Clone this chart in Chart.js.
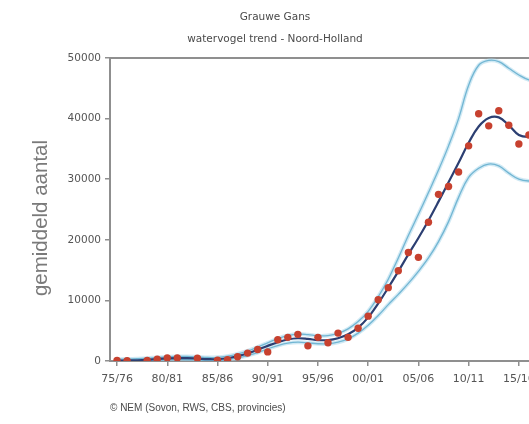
<!DOCTYPE html>
<html>
<head>
<meta charset="utf-8">
<script src="https://cdn.jsdelivr.net/npm/chart.js@4/dist/chart.umd.min.js"></script>
<style>
  html, body { margin: 0; padding: 0; background: #ffffff; overflow: hidden; }
  #wrap { width: 575px; height: 424px; }
</style>
</head>
<body>
<div id="wrap"><canvas id="c" width="575" height="424"></canvas></div>
<script>
// Winter seasons (one point per season)
const seasons = [
  '75/76','76/77','77/78','78/79','79/80','80/81','81/82','82/83','83/84','84/85',
  '85/86','86/87','87/88','88/89','89/90','90/91','91/92','92/93','93/94','94/95',
  '95/96','96/97','97/98','98/99','99/00','00/01','01/02','02/03','03/04','04/05',
  '05/06','06/07','07/08','08/09','09/10','10/11','11/12','12/13','13/14','14/15',
  '15/16','16/17','17/18','18/19'
];

// Seasons that carry an axis label
const tickSeasons = ['75/76','80/81','85/86','90/91','95/96','00/01','05/06','10/11','15/16'];

// Observed mean counts (null = no count)
const counts = [
  100, 50, null, 100, 300, 500, 500, null, 450, null,
  150, 200, 700, 1300, 1900, 1500, 3500, 3900, 4400, 2500,
  3900, 3000, 4600, 3900, 5400, 7400, 10100, 12100, 14900, 17900,
  17100, 22900, 27500, 28800, 31200, 35500, 40800, 38800, 41300, 38900,
  35800, 37300, 36500, null
];

// Smoothed trend
const trend = [
  50, 80, 120, 200, 320, 420, 480, 470, 400, 320,
  300, 450, 800, 1250, 1850, 2500, 3100, 3550, 3750, 3650,
  3450, 3450, 3750, 4400, 5500, 7200, 9500, 12100, 14800, 17600,
  20300, 23200, 26300, 29500, 32700, 36000, 38700, 40100, 40200, 38900,
  37300, 37000, 37300, 37600
];

// Upper and lower bounds of the trend
const upper = [
  300, 320, 370, 450, 580, 680, 750, 740, 670, 580,
  600, 800, 1150, 1650, 2300, 3000, 3700, 4200, 4450, 4350,
  4150, 4200, 4550, 5300, 6500, 8200, 10600, 13500, 17000, 20700,
  24200, 27800, 31500, 35500, 40000, 45500, 48800, 49600, 49400, 48300,
  47200, 46400, 46300, 46500
];
const lower = [
  0, 0, 0, 20, 100, 170, 220, 210, 150, 80,
  50, 200, 500, 900, 1400, 2000, 2550, 2950, 3100, 3000,
  2850, 2850, 3100, 3650, 4600, 5900, 7500, 9300, 11000, 12800,
  14800, 17000, 19700, 23000, 27000, 30300, 31800, 32500, 32200, 31000,
  30000, 29700, 29800, 30000
];

const pts = arr => arr.map((v, i) => ({ x: i, y: v }));
const tickValues = tickSeasons.map(s => seasons.indexOf(s));

const AXIS = '#8f8f8f';
const TEXT = '#555555';
const FONT = '"DejaVu Sans", Verdana, sans-serif';

// Rotated caption left of the value axis
const yCaption = {
  id: 'yCaption',
  afterDraw(chart) {
    const ctx = chart.ctx;
    ctx.save();
    ctx.translate(41, 218);
    ctx.rotate(-Math.PI / 2);
    ctx.font = '20.5px "Liberation Sans", Arial, sans-serif';
    ctx.fillStyle = '#7a7a7a';
    ctx.textAlign = 'center';
    ctx.textBaseline = 'middle';
    ctx.fillText('gemiddeld aantal', 0, 0);
    ctx.restore();
  }
};

const bandHalo = { borderColor: 'rgba(170,215,235,0.55)', borderWidth: 4, pointRadius: 0, tension: 0.4, order: 5 };
const bandLine = { borderColor: '#72b6d3', borderWidth: 1.3, pointRadius: 0, tension: 0.4, order: 4 };

new Chart(document.getElementById('c'), {
  type: 'scatter',
  data: {
    datasets: [
      { label: 'telling', data: pts(counts), showLine: false, pointRadius: 3.7,
        pointBackgroundColor: '#c7412f', pointBorderWidth: 0, order: 0 },
      { label: 'trend', data: pts(trend), showLine: true, borderColor: '#2c3f72', borderWidth: 2.2,
        pointRadius: 0, tension: 0.4, order: 1 },
      Object.assign({ label: 'bovengrens halo', data: pts(upper), showLine: true }, bandHalo),
      Object.assign({ label: 'ondergrens halo', data: pts(lower), showLine: true }, bandHalo),
      Object.assign({ label: 'bovengrens', data: pts(upper), showLine: true }, bandLine),
      Object.assign({ label: 'ondergrens', data: pts(lower), showLine: true }, bandLine)
    ]
  },
  options: {
    responsive: false,
    animation: false,
    layout: { padding: { left: 0, right: 25, top: 0, bottom: 0 } },
    plugins: {
      legend: { display: false },
      tooltip: { enabled: false },
      title: {
        display: true,
        text: ['Grauwe Gans', 'watervogel trend - Noord-Holland'],
        color: '#4a4a4a',
        font: { family: FONT, size: 10.5, weight: 'normal', lineHeight: '22px' },
        padding: { top: 6, bottom: 8 }
      },
      subtitle: {
        display: true,
        position: 'bottom',
        align: 'start',
        fullSize: false,
        text: '\u00A9 NEM (Sovon, RWS, CBS, provincies)',
        color: '#4a4a4a',
        font: { family: '"Liberation Sans", Arial, sans-serif', size: 10, weight: 'normal', lineHeight: 1.2 },
        padding: { top: 4, bottom: 10 }
      }
    },
    scales: {
      x: {
        type: 'linear',
        position: 'bottom',
        min: -0.7,
        max: 43.1,
        afterBuildTicks: s => { s.ticks = tickValues.map(v => ({ value: v })); },
        afterFit: s => { s.height = 37; },
        ticks: {
          color: TEXT,
          font: { family: FONT, size: 11 },
          padding: 7,
          maxRotation: 0,
          autoSkip: false,
          callback: v => seasons[v]
        },
        grid: { drawOnChartArea: false, drawTicks: true, tickLength: 5, color: AXIS, lineWidth: 1.5 },
        border: { display: true, color: AXIS, width: 2 }
      },
      xTop: {
        type: 'linear',
        position: 'top',
        min: -0.7,
        max: 43.1,
        afterFit: s => { s.height = 0; },
        ticks: { display: false },
        grid: { display: false, drawTicks: false },
        border: { display: true, color: AXIS, width: 2 }
      },
      y: {
        min: 0,
        max: 50000,
        afterFit: s => { s.width = 110; },
        ticks: {
          stepSize: 10000,
          color: TEXT,
          font: { family: FONT, size: 10.5 },
          padding: 4,
          callback: v => String(v)
        },
        grid: { drawOnChartArea: false, drawTicks: true, tickLength: 5, color: AXIS, lineWidth: 1.5 },
        border: { display: true, color: AXIS, width: 2 }
      }
    }
  },
  plugins: [yCaption]
});
</script>
</body>
</html>
